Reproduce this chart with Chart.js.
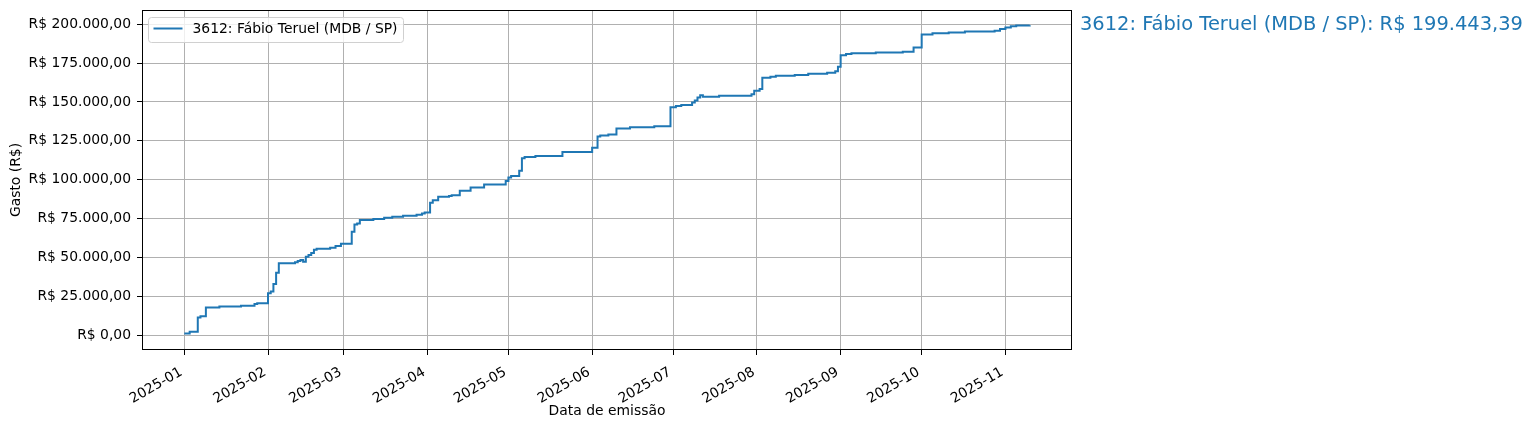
<!DOCTYPE html>
<html><head><meta charset="utf-8">
<script src="https://cdn.jsdelivr.net/npm/chart.js@4"></script>
<style>html,body{margin:0;padding:0;background:#fff;} canvas{display:block;}</style>
</head><body>
<canvas id="c" width="1533" height="430"></canvas>
<script>
const seriesLabel = '3612: Fábio Teruel (MDB / SP)';
const xTitle = 'Data de emissão';
const yTitle = 'Gasto (R$)';

const dates = [
 '2025-01-01','2025-01-03','2025-01-06','2025-01-07','2025-01-09','2025-01-14','2025-01-22','2025-01-27','2025-01-28',
 '2025-02-01','2025-02-02','2025-02-03','2025-02-04','2025-02-05','2025-02-11','2025-02-12','2025-02-13','2025-02-14','2025-02-15','2025-02-16','2025-02-17','2025-02-18','2025-02-19','2025-02-24','2025-02-26','2025-02-28',
 '2025-03-04','2025-03-05','2025-03-06','2025-03-07','2025-03-12','2025-03-16','2025-03-19','2025-03-23','2025-03-28','2025-03-30','2025-03-31',
 '2025-04-02','2025-04-03','2025-04-05','2025-04-09','2025-04-10','2025-04-13','2025-04-17','2025-04-22','2025-04-30',
 '2025-05-01','2025-05-02','2025-05-05','2025-05-06','2025-05-07','2025-05-11','2025-05-21',
 '2025-06-01','2025-06-03','2025-06-04','2025-06-07','2025-06-10','2025-06-15','2025-06-24','2025-06-30',
 '2025-07-02','2025-07-04','2025-07-08','2025-07-09','2025-07-10','2025-07-11','2025-07-12','2025-07-18','2025-07-30','2025-07-31',
 '2025-08-02','2025-08-03','2025-08-06','2025-08-08','2025-08-15','2025-08-20','2025-08-27','2025-08-30','2025-08-31',
 '2025-09-01','2025-09-03','2025-09-05','2025-09-14','2025-09-24','2025-09-28',
 '2025-10-01','2025-10-05','2025-10-11','2025-10-17','2025-10-28','2025-10-30',
 '2025-11-01','2025-11-03','2025-11-05','2025-11-10'
];
const totals = [
 1000,2100,11300,12000,17700,18400,18800,19900,20500,
 26900,28000,32900,40000,46200,46800,47600,48300,47200,50400,51500,52800,54900,55600,56200,57300,58800,
 66400,71100,71800,74000,74600,75400,76100,76700,77400,78200,78900,
 85100,86800,89000,89400,90000,92800,95000,96900,99100,
 101400,102300,105700,113700,114500,115200,117800,
 120500,127800,128400,129100,132900,133800,134400,146600,
 147400,148100,149600,150900,152800,154400,153300,154000,154900,157300,
 158300,165600,166200,166900,167300,168200,168800,169700,172600,
 180000,180800,181300,181800,182300,185000,
 193400,194200,194700,195300,195900,197000,
 197900,198700,199200,199443.39
];
const monthTicks = ['2025-01','2025-02','2025-03','2025-04','2025-05','2025-06','2025-07','2025-08','2025-09','2025-10','2025-11'];
const yTicks = [0,25000,50000,75000,100000,125000,150000,175000,200000];

const BASE = Date.UTC(2025,0,1);
function dayOf(s){ const p = s.split('-').map(Number); return (Date.UTC(p[0],p[1]-1,p[2]||1)-BASE)/86400000; }
function brl(v){
  const neg = v < 0; v = Math.abs(v);
  let [i,d] = v.toFixed(2).split('.');
  i = i.replace(/\B(?=(\d{3})+(?!\d))/g,'.');
  return (neg?'-':'') + 'R$ ' + i + ',' + d;
}

const FONT = '"DejaVu Sans", sans-serif';
const FS = 13.9;
const LINE = '#1f77b4';

const decor = {
  id:'decor',
  afterDraw(chart){
    const ctx = chart.ctx, a = chart.chartArea;
    ctx.save();
    ctx.strokeStyle = '#000'; ctx.lineWidth = 1;
    ctx.strokeRect(Math.round(a.left)+0.5, Math.round(a.top)+0.5, Math.round(a.right-a.left)-1, Math.round(a.bottom-a.top)-1);
    const lx = a.left + 6.5, ly = a.top + 7.5, lw = 255, lh = 25;
    ctx.beginPath();
    ctx.roundRect(lx, ly, lw, lh, 3);
    ctx.fillStyle = 'rgba(255,255,255,0.8)'; ctx.fill();
    ctx.strokeStyle = '#d0d0d0'; ctx.lineWidth = 1; ctx.stroke();
    ctx.beginPath();
    ctx.moveTo(lx+5, ly+11); ctx.lineTo(lx+34, ly+11);
    ctx.strokeStyle = LINE; ctx.lineWidth = 2; ctx.stroke();
    ctx.fillStyle = '#000'; ctx.font = FS + 'px ' + FONT;
    ctx.textAlign = 'left'; ctx.textBaseline = 'middle';
    ctx.fillText(chart.data.datasets[0].label, lx+44, ly+12);
    const last = totals[totals.length-1];
    const yy = chart.scales.y.getPixelForValue(last);
    ctx.fillStyle = LINE; ctx.font = '19.44px ' + FONT;
    ctx.fillText(seriesLabel + ': ' + brl(last), a.right + 8, yy);
    ctx.fillStyle = '#000'; ctx.font = FS + 'px ' + FONT;
    ctx.textAlign = 'center';
    ctx.fillText(xTitle, (a.left+a.right)/2, 411.5);
    ctx.translate(16, (a.top+a.bottom)/2);
    ctx.rotate(-Math.PI/2);
    ctx.fillText(yTitle, 0, 0);
    ctx.restore();
  }
};

Chart.defaults.font.family = FONT;
Chart.defaults.font.size = FS;
Chart.defaults.color = '#000';
new Chart(document.getElementById('c').getContext('2d'), {
  type:'line',
  data:{ datasets:[{
    label: seriesLabel,
    data: dates.map((d,i)=>({x:dayOf(d), y:totals[i]})),
    borderColor: LINE, backgroundColor: LINE, borderWidth: 2,
    pointRadius: 0, stepped: 'before', fill: false
  }]},
  options:{
    responsive:false, animation:false, devicePixelRatio:1,
    layout:{padding:{left:0, right:461, top:10, bottom:0}},
    plugins:{legend:{display:false}, tooltip:{enabled:false}},
    scales:{
      x:{
        type:'linear', min:-15.65, max:328.65,
        afterBuildTicks: s => { s.ticks = monthTicks.map(m => ({value: dayOf(m)})); },
        afterFit: s => { s.height = 80; s.paddingLeft = 0; s.paddingRight = 0; },
        grid:{color:'#b0b0b0', lineWidth:1, tickColor:'#000', tickLength:5, drawOnChartArea:true},
        border:{display:false},
        ticks:{minRotation:30, maxRotation:30, autoSkip:false, padding:9, labelOffset:-3, color:'#000', font:{size:FS},
          callback:(v,i)=>monthTicks[i]}
      },
      y:{
        type:'linear', min:-9650, max:209200,
        afterBuildTicks: s => { s.ticks = yTicks.map(v => ({value:v})); },
        afterFit: s => { s.width = 142; s.paddingTop = 0; s.paddingBottom = 0; },
        grid:{color:'#b0b0b0', lineWidth:1, tickColor:'#000', tickLength:5, drawOnChartArea:true},
        border:{display:false},
        ticks:{padding:6, color:'#000', font:{size:FS}, callback:(v)=>brl(v)}
      }
    }
  },
  plugins:[decor]
});
</script>
</body></html>
